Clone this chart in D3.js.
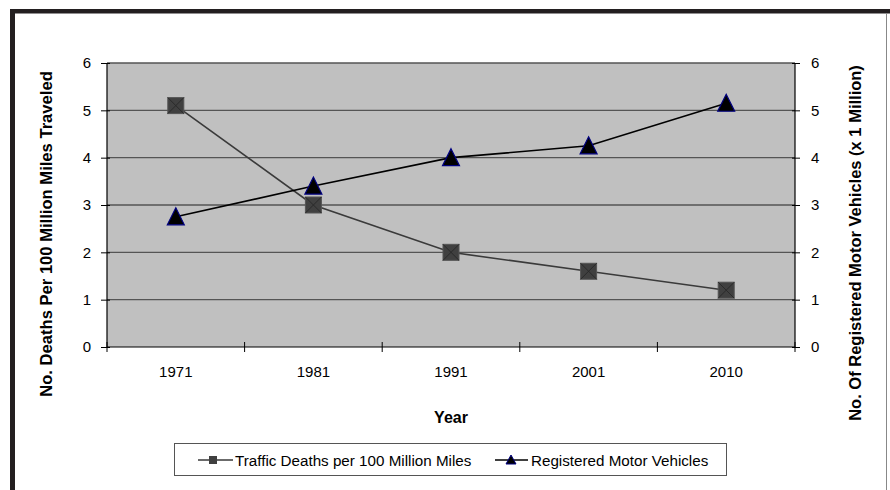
<!DOCTYPE html>
<html><head><meta charset="utf-8">
<script src="https://cdn.jsdelivr.net/npm/d3@7"></script>
<style>body{margin:0;background:#fff;}svg{display:block;} text{font-family:"Liberation Sans",Arial,sans-serif;}</style>
</head><body><svg id="c" width="890" height="490"></svg>
<script>
const years = ["1971","1981","1991","2001","2010"];
const deaths = [5.1, 3.0, 2.0, 1.6, 1.2];
const vehicles = [2.75, 3.4, 4.0, 4.25, 5.15];
const yTicks = [0,1,2,3,4,5,6];
const seriesNames = ["Traffic Deaths per 100 Million Miles","Registered Motor Vehicles"];

const svg = d3.select("#c");
const L=107, R=795, T=63, B=347;
const FF = '"Liberation Sans", Arial, sans-serif';
svg.append("rect").attr("x",0).attr("y",0).attr("width",890).attr("height",490).attr("fill","#fff");
svg.append("rect").attr("x",10).attr("y",9).attr("width",880).attr("height",4.5).attr("fill","#231f20");
svg.append("rect").attr("x",10).attr("y",9).attr("width",5).attr("height",481).attr("fill","#231f20");
svg.append("line").attr("x1",886.5).attr("x2",886.5).attr("y1",13).attr("y2",490).attr("stroke","#888").attr("stroke-width",1);

const x = d3.scaleBand().domain(years).range([L,R]).padding(0);
const y = d3.scaleLinear().domain([0,6]).range([B,T]);
const y2 = d3.scaleLinear().domain([0,6]).range([B,T]);

svg.append("rect").attr("x",L).attr("y",T).attr("width",R-L).attr("height",B-T).attr("fill","#c0c0c0");
svg.append("g").selectAll("line").data(yTicks.slice(1)).join("line")
  .attr("x1",L).attr("x2",R).attr("y1",d=>y(d)).attr("y2",d=>y(d))
  .attr("stroke","#555").attr("stroke-width",1.4);

const fmt = d3.format("d");
const gl = svg.append("g").attr("transform",`translate(${L},0)`)
  .call(d3.axisLeft(y).tickValues(yTicks).tickFormat(fmt).tickSize(6).tickPadding(10));
gl.selectAll(".tick line").attr("x1",3).attr("x2",-6);
const gr = svg.append("g").attr("transform",`translate(${R},0)`)
  .call(d3.axisRight(y2).tickValues(yTicks).tickFormat(fmt).tickSize(5).tickPadding(11));
gr.selectAll(".tick line").attr("x1",-3).attr("x2",5);
const gb = svg.append("g").attr("transform",`translate(0,${B})`)
  .call(d3.axisBottom(x).tickSize(0).tickPadding(19));
gb.selectAll(".tick line").remove();
const bounds = years.map(d=>x(d)).concat([R]);
gb.selectAll("line.bt").data(bounds).join("line").attr("class","bt")
  .attr("x1",d=>d).attr("x2",d=>d).attr("y1",-5).attr("y2",5).attr("stroke","#000");
[gl,gr,gb].forEach(g=>{
  g.attr("font-size",null).attr("font-family",null);
  g.select(".domain").attr("stroke","#000").attr("stroke-width",1.2);
  g.selectAll(".tick line").attr("stroke","#000");
  g.selectAll("text").style("font-size","15px").style("font-family",FF).attr("fill","#000");
});
gl.select(".domain").attr("d",`M0,${T}V${B}`);
gr.select(".domain").attr("d",`M0,${T}V${B}`);
gb.select(".domain").attr("d",`M${L},0H${R}`);

const cx = d=>x(d)+x.bandwidth()/2;
const line1 = d3.line().x((d,i)=>cx(years[i])).y(d=>y(d));
const line2 = d3.line().x((d,i)=>cx(years[i])).y(d=>y2(d));
svg.append("path").attr("d",line1(deaths)).attr("fill","none").attr("stroke","#3a3a3a").attr("stroke-width",1.6);
svg.append("path").attr("d",line2(vehicles)).attr("fill","none").attr("stroke","#000").attr("stroke-width",1.6);

function square(g, px, py, s){
  const h=s/2;
  g.append("rect").attr("x",px-h).attr("y",py-h).attr("width",s).attr("height",s)
    .attr("fill","#404040").attr("stroke","#555").attr("stroke-width",1);
  g.append("path").attr("d",`M${px-h},${py-h}L${px+h},${py+h}M${px+h},${py-h}L${px-h},${py+h}`)
    .attr("stroke","#2a2a2a").attr("stroke-width",1);
}
function tri(g, px, py, s){
  const h=s/2;
  g.append("path").attr("d",`M${px},${py-h-1}L${px+h+0.5},${py+h}L${px-h-0.5},${py+h}Z`)
    .attr("fill","#000").attr("stroke","#000080").attr("stroke-width",1.2);
}
const mk = svg.append("g");
deaths.forEach((d,i)=>square(mk,cx(years[i]),y(d),16));
vehicles.forEach((d,i)=>tri(mk,cx(years[i]),y2(d),16));

svg.append("text").attr("transform",`translate(52,234) rotate(-90)`)
  .attr("text-anchor","middle").style("font-size","16.6px").attr("font-weight","bold").text("No. Deaths Per 100 Million Miles Traveled");
svg.append("text").attr("transform",`translate(861,243) rotate(-90)`)
  .attr("text-anchor","middle").style("font-size","16.5px").attr("font-weight","bold").text("No. Of Registered Motor Vehicles (x 1 Million)");
svg.append("text").attr("x",451).attr("y",423).attr("text-anchor","middle")
  .style("font-size","16px").attr("font-weight","bold").text("Year");

const lg = svg.append("g");
lg.append("rect").attr("x",174.5).attr("y",443.5).attr("width",552).attr("height",32)
  .attr("fill","#fff").attr("stroke","#555").attr("stroke-width",1);
lg.append("line").attr("x1",198).attr("x2",233).attr("y1",460).attr("y2",460).attr("stroke","#3a3a3a").attr("stroke-width",1.6);
lg.append("rect").attr("x",209).attr("y",456).attr("width",8).attr("height",8).attr("fill","#404040");
lg.append("text").attr("x",235).attr("y",465.5).style("font-size","15.2px").text(seriesNames[0]);
lg.append("line").attr("x1",495).attr("x2",528).attr("y1",460).attr("y2",460).attr("stroke","#000").attr("stroke-width",1.6);
lg.append("path").attr("d","M511,455L516,464L506,464Z").attr("fill","#000").attr("stroke","#000080");
lg.append("text").attr("x",531).attr("y",465.5).style("font-size","15.2px").text(seriesNames[1]);
</script></body></html>
